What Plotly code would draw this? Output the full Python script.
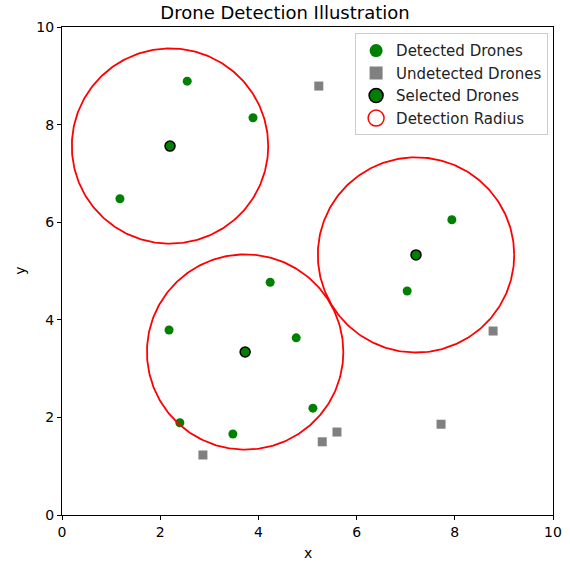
import numpy as np
import plotly.graph_objects as go

# Data
detected_x = [2.55, 3.89, 1.18, 7.94, 7.03, 4.24, 2.18, 4.77, 5.11, 2.40, 3.48, 2.20, 7.21, 3.73]
detected_y = [8.89, 8.14, 6.48, 6.05, 4.59, 4.77, 3.79, 3.63, 2.19, 1.89, 1.66, 7.56, 5.33, 3.34]
undetected_x = [5.23, 8.78, 2.87, 5.30, 5.60, 7.72]
undetected_y = [8.79, 3.77, 1.23, 1.50, 1.70, 1.86]
selected_x = [2.20, 7.21, 3.73]
selected_y = [7.56, 5.33, 3.34]
detection_radius = 2.0
legend_names = ["Detected Drones", "Undetected Drones", "Selected Drones", "Detection Radius"]

FONT = "DejaVu Sans"
fig = go.Figure()

fig.add_trace(go.Scatter(x=detected_x, y=detected_y, mode="markers", showlegend=False,
                         marker=dict(color="green", size=9, symbol="circle")))
fig.add_trace(go.Scatter(x=undetected_x, y=undetected_y, mode="markers", showlegend=False,
                         marker=dict(color="gray", size=9, symbol="square")))
fig.add_trace(go.Scatter(x=selected_x, y=selected_y, mode="markers", showlegend=False,
                         marker=dict(color="green", size=10, symbol="circle",
                                     line=dict(color="black", width=1.5))))

theta = np.linspace(0, 2 * np.pi, 300)
for cx, cy in zip(selected_x, selected_y):
    fig.add_trace(go.Scatter(x=cx + detection_radius * np.cos(theta),
                             y=cy + detection_radius * np.sin(theta),
                             mode="lines", line=dict(color="red", width=1.8),
                             showlegend=False, hoverinfo="skip"))

# legend-only entries (larger markers as in the reference legend)
legend_markers = [
    dict(color="green", size=13, symbol="circle"),
    dict(color="gray", size=13, symbol="square"),
    dict(color="green", size=14, symbol="circle", line=dict(color="black", width=1.5)),
    dict(color="red", size=20, symbol="circle-open", line=dict(color="red", width=1.5)),
]
for name, mk in zip(legend_names, legend_markers):
    fig.add_trace(go.Scatter(x=[None], y=[None], mode="markers", name=name, marker=mk))

axis_common = dict(range=[0, 10], showgrid=False, zeroline=False, showline=True,
                   linecolor="black", linewidth=1, mirror=True, ticks="outside",
                   ticklen=4, tickcolor="black", dtick=2, automargin=False,
                   tickfont=dict(family=FONT, size=14, color="black"))
fig.update_xaxes(**axis_common)
fig.update_yaxes(**axis_common)

fig.add_annotation(text="x", xref="paper", yref="paper", x=0.5, y=-0.078,
                   xanchor="center", yanchor="middle", showarrow=False,
                   font=dict(family=FONT, size=14, color="black"))
fig.add_annotation(text="y", xref="paper", yref="paper", x=-0.086, y=0.5,
                   xanchor="center", yanchor="middle", showarrow=False, textangle=-90,
                   font=dict(family=FONT, size=14, color="black"))

fig.update_layout(
    width=570, height=563,
    margin=dict(l=62, r=17, t=27, b=48),
    plot_bgcolor="white", paper_bgcolor="white",
    title=dict(text="Drone Detection Illustration", x=0.5, xanchor="center",
               y=0.978, yanchor="middle", font=dict(family=FONT, size=18, color="black")),
    legend=dict(x=0.99, y=0.987, xanchor="right", yanchor="top",
                bgcolor="rgba(255,255,255,0.8)", bordercolor="#cccccc", borderwidth=1,
                font=dict(family=FONT, size=15, color="#222222"), tracegroupgap=0,
                itemsizing="trace"),
    showlegend=True,
)

fig.write_html("out.html", config={"displayModeBar": False},
               post_script="document.body.style.margin='0';")
